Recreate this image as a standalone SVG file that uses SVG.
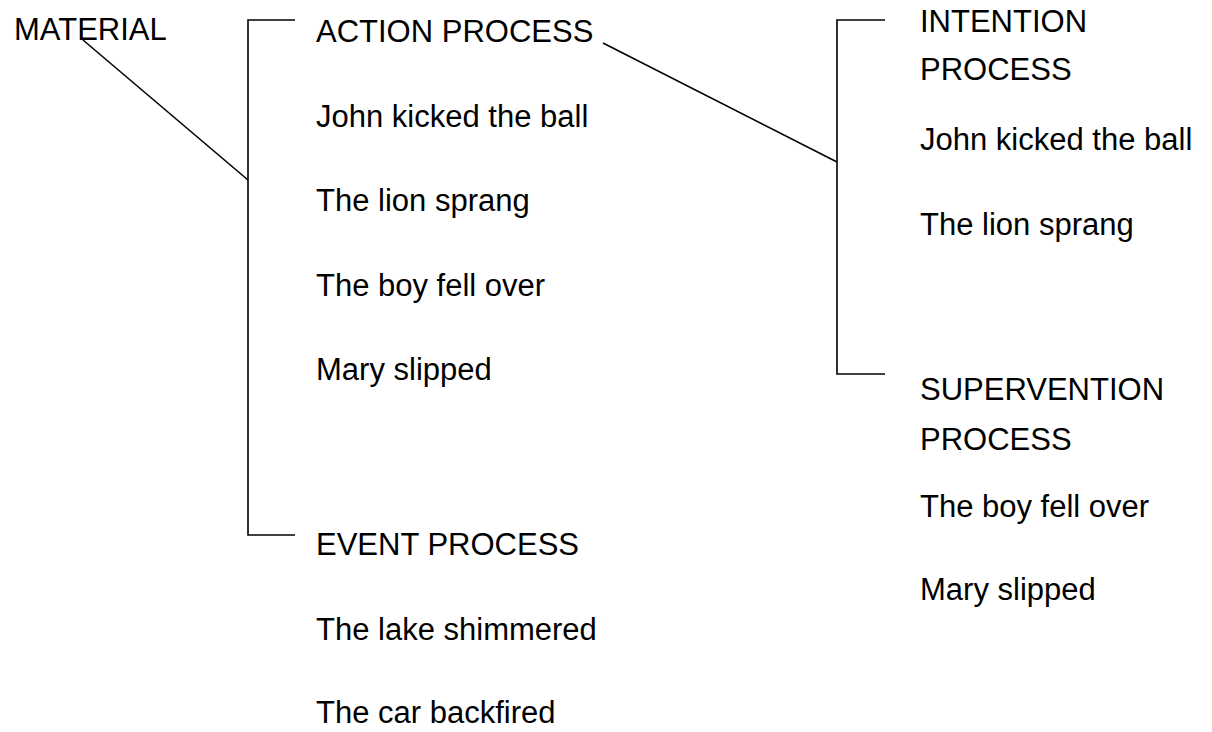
<svg xmlns="http://www.w3.org/2000/svg" width="1212" height="732" viewBox="0 0 1212 732">
<style>
text{font-family:"Liberation Sans",Arial,sans-serif;font-size:31px;fill:#000}
.ln{stroke:#000;stroke-width:1.6;fill:none}
</style>
<rect width="1212" height="732" fill="#fff"/>
<g id="connectors">
<path class="ln" d="M295,20 H248 V535 H295"/>
<path class="ln" d="M83,40 L248,180"/>
<path class="ln" d="M885,20 H837 V374 H885"/>
<path class="ln" d="M603,43 L837,162"/>
</g>
<g id="material"><text x="14" y="40">MATERIAL</text></g>
<g id="action">
<text x="316" y="42">ACTION PROCESS</text>
<text x="316" y="127">John kicked the ball</text>
<text x="316" y="211">The lion sprang</text>
<text x="316" y="296">The boy fell over</text>
<text x="316" y="380">Mary slipped</text>
</g>
<g id="event">
<text x="316" y="555">EVENT PROCESS</text>
<text x="316" y="640">The lake shimmered</text>
<text x="316" y="723">The car backfired</text>
</g>
<g id="intention">
<text x="920" y="32">INTENTION</text>
<text x="920" y="80">PROCESS</text>
<text x="920" y="150">John kicked the ball</text>
<text x="920" y="235">The lion sprang</text>
</g>
<g id="supervention">
<text x="920" y="400">SUPERVENTION</text>
<text x="920" y="450">PROCESS</text>
<text x="920" y="517">The boy fell over</text>
<text x="920" y="600">Mary slipped</text>
</g>
</svg>
